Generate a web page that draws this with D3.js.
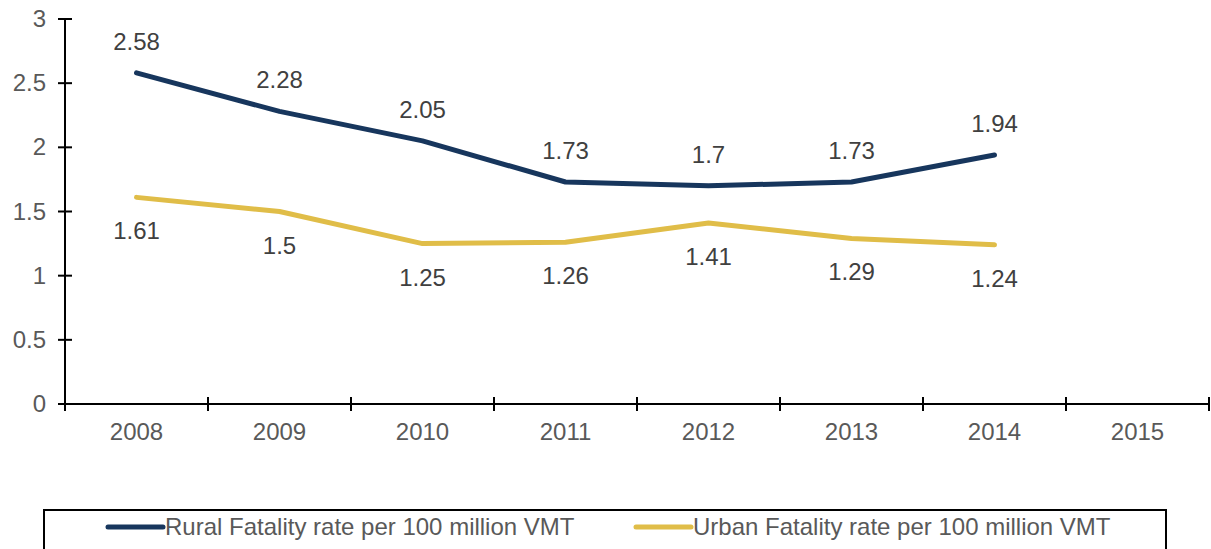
<!DOCTYPE html>
<html>
<head>
<meta charset="utf-8">
<script src="https://cdn.jsdelivr.net/npm/d3@7"></script>
<style>
  body { margin: 0; background: #fff; }
  svg { display: block; font-family: "Liberation Sans", Arial, sans-serif; }
</style>
</head>
<body>
<div id="chart"></div>
<script>
const width = 1211, height = 549;

// data
const years = ["2008", "2009", "2010", "2011", "2012", "2013", "2014", "2015"];
const rural = [2.58, 2.28, 2.05, 1.73, 1.7, 1.73, 1.94];
const urban = [1.61, 1.5, 1.25, 1.26, 1.41, 1.29, 1.24];
const yTicks = [0, 0.5, 1, 1.5, 2, 2.5, 3];
const seriesNames = ["Rural Fatality rate per 100 million VMT", "Urban Fatality rate per 100 million VMT"];
const seriesColors = ["#17365d", "#e0bd48"];

const x = d3.scaleBand().domain(years).range([65, 1209]);
const y = d3.scaleLinear().domain([0, 3]).range([404, 19]);

const svg = d3.select("#chart").append("svg")
    .attr("width", width)
    .attr("height", height);

// y axis
svg.append("line")
    .attr("x1", 65).attr("x2", 65)
    .attr("y1", y(3)).attr("y2", y(0))
    .attr("stroke", "#000").attr("stroke-width", 2);

svg.selectAll(".ytick")
  .data(yTicks)
  .enter()
  .append("line")
    .attr("x1", 58).attr("x2", 72)
    .attr("y1", d => y(d)).attr("y2", d => y(d))
    .attr("stroke", "#000").attr("stroke-width", 2);

svg.selectAll(".ylabel")
  .data(yTicks)
  .enter()
  .append("text")
    .attr("x", 46)
    .attr("y", d => y(d) + 8)
    .attr("text-anchor", "end")
    .attr("font-size", 24)
    .attr("fill", "#595959")
    .text(d => d);

// x axis
svg.append("line")
    .attr("x1", 65).attr("x2", 1209)
    .attr("y1", y(0)).attr("y2", y(0))
    .attr("stroke", "#000").attr("stroke-width", 2);

const xBounds = years.map(d => x(d)).concat([x.range()[1]]);
svg.selectAll(".xtick")
  .data(xBounds)
  .enter()
  .append("line")
    .attr("x1", d => d).attr("x2", d => d)
    .attr("y1", y(0) - 7).attr("y2", y(0) + 7)
    .attr("stroke", "#000").attr("stroke-width", 2);

svg.selectAll(".xlabel")
  .data(years)
  .enter()
  .append("text")
    .attr("x", d => x(d) + x.bandwidth() / 2)
    .attr("y", 440)
    .attr("text-anchor", "middle")
    .attr("font-size", 24)
    .attr("fill", "#595959")
    .text(d => d);

// lines
const line = d3.line()
    .x((d, i) => x(years[i]) + x.bandwidth() / 2)
    .y(d => y(d));

[rural, urban].forEach(function(vals, k) {
  svg.append("path")
      .datum(vals)
      .attr("d", line)
      .attr("fill", "none")
      .attr("stroke", seriesColors[k])
      .attr("stroke-width", 5)
      .attr("stroke-linecap", "round")
      .attr("stroke-linejoin", "round");

  svg.selectAll(".lab" + k)
    .data(vals)
    .enter()
    .append("text")
      .attr("x", (d, i) => x(years[i]) + x.bandwidth() / 2)
      .attr("y", d => k === 0 ? y(d) - 23 : y(d) + 42)
      .attr("text-anchor", "middle")
      .attr("font-size", 24)
      .attr("fill", "#404040")
      .text(d => d);
});

// legend
svg.append("rect")
    .attr("x", 44).attr("y", 510)
    .attr("width", 1122).attr("height", 60)
    .attr("fill", "none")
    .attr("stroke", "#000").attr("stroke-width", 2);

const legendX = [108, 636];
seriesNames.forEach(function(name, k) {
  svg.append("line")
      .attr("x1", legendX[k]).attr("x2", legendX[k] + 55)
      .attr("y1", 527).attr("y2", 527)
      .attr("stroke", seriesColors[k])
      .attr("stroke-width", 5)
      .attr("stroke-linecap", "round");
  svg.append("text")
      .attr("x", legendX[k] + 57)
      .attr("y", 535)
      .attr("font-size", 24)
      .attr("fill", "#595959")
      .text(name);
});
</script>
</body>
</html>
